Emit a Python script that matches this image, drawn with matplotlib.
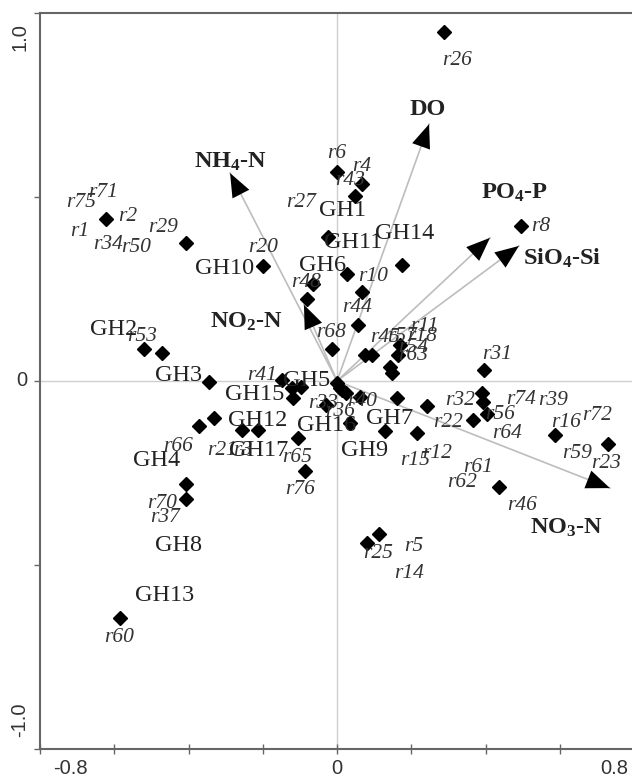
import matplotlib
matplotlib.use("Agg")
import matplotlib.pyplot as plt

plt.rcParams['mathtext.default'] = 'regular'

# ---- data ----
sample_x = [0.288, 0.495, 0.000, 0.067, 0.048, -0.024, 0.175, -0.199, 0.027, 0.067,
            0.057, -0.065, -0.081, -0.013, 0.075, 0.094, 0.170, 0.164, 0.143, 0.148,
            0.396, -0.622, -0.406, -0.520, -0.471, -0.345, -0.331, -0.371, -0.256, -0.213,
            -0.148, -0.121, -0.097, -0.118, -0.105, -0.086, 0.000, 0.013, 0.024, 0.008,
            0.062, -0.030, 0.035, 0.162, 0.242, 0.129, 0.215, 0.390, 0.393, 0.404,
            0.366, 0.587, 0.729, 0.436, 0.081, 0.113, -0.406, -0.406, -0.584]
sample_y = [0.948, 0.421, 0.568, 0.535, 0.503, 0.391, 0.315, 0.313, 0.291, 0.242,
            0.152, 0.264, 0.223, 0.087, 0.071, 0.071, 0.098, 0.071, 0.038, 0.022,
            0.030, 0.440, 0.375, 0.087, 0.076, -0.003, -0.101, -0.122, -0.133, -0.133,
            0.003, -0.019, -0.016, -0.046, -0.155, -0.245, -0.005, -0.024, -0.033, -0.019,
            -0.043, -0.065, -0.114, -0.046, -0.068, -0.136, -0.141, -0.033, -0.057, -0.090,
            -0.106, -0.147, -0.171, -0.288, -0.440, -0.416, -0.280, -0.321, -0.644]

site_names = ['r26', 'r8', 'r6', 'r4', 'r43', 'r27', 'r20', 'r10', 'r44', 'r68',
              'r48', 'r45', 'r57', 'r11', 'r18', 'r54', 'r63', 'r31', 'r32', 'r74',
              'r39', 'r56', 'r22', 'r64', 'r16', 'r72', 'r59', 'r23', 'r61', 'r62',
              'r46', 'r15', 'r12', 'r25', 'r5', 'r14', 'r33', 'r36', 'r40', 'r41',
              'r65', 'r76', 'r66', 'r21', 'r3', 'r70', 'r37', 'r60', 'r53', 'r71',
              'r75', 'r2', 'r1', 'r29', 'r34', 'r50']
site_lx = [0.323, 0.549, 0.000, 0.067, 0.035, -0.097, -0.199, 0.097, 0.054, -0.016,
           -0.084, 0.129, 0.175, 0.234, 0.229, 0.205, 0.205, 0.431, 0.331, 0.496,
           0.582, 0.439, 0.299, 0.458, 0.617, 0.700, 0.646, 0.725, 0.380, 0.337,
           0.498, 0.210, 0.269, 0.110, 0.207, 0.194, -0.038, 0.008, 0.067, -0.202,
           -0.108, -0.100, -0.428, -0.310, -0.253, -0.471, -0.463, -0.587, -0.525, -0.630,
           -0.690, -0.563, -0.692, -0.469, -0.617, -0.541]
site_ly = [0.872, 0.421, 0.617, 0.584, 0.546, 0.484, 0.364, 0.283, 0.201, 0.133,
           0.269, 0.117, 0.120, 0.147, 0.120, 0.092, 0.068, 0.071, -0.054, -0.049,
           -0.052, -0.092, -0.114, -0.144, -0.114, -0.095, -0.198, -0.223, -0.234, -0.277,
           -0.337, -0.215, -0.196, -0.470, -0.451, -0.524, -0.060, -0.084, -0.057, 0.014,
           -0.207, -0.296, -0.177, -0.188, -0.188, -0.332, -0.372, -0.698, 0.120, 0.511,
           0.484, 0.448, 0.405, 0.418, 0.372, 0.364]

group_names = ['GH1', 'GH11', 'GH14', 'GH6', 'GH10', 'GH2', 'GH3', 'GH15', 'GH5',
               'GH12', 'GH16', 'GH17', 'GH7', 'GH9', 'GH4', 'GH8', 'GH13']
group_lx = [0.016, 0.043, 0.183, -0.038, -0.302, -0.603, -0.426, -0.221, -0.081,
            -0.213, -0.027, -0.210, 0.143, 0.075, -0.485, -0.426, -0.463]
group_ly = [0.462, 0.375, 0.402, 0.313, 0.307, 0.139, 0.016, -0.038, 0.000,
            -0.106, -0.122, -0.190, -0.101, -0.188, -0.215, -0.446, -0.582]

env_names = ['NH$_4$-N', 'DO', 'PO$_4$-P', 'SiO$_4$-Si', 'NO$_2$-N', 'NO$_3$-N']
env_x = [-0.288, 0.248, 0.412, 0.490, -0.089, 0.735]
env_y = [0.565, 0.698, 0.389, 0.367, 0.207, -0.291]
env_lx = [-0.286, 0.245, 0.479, 0.606, -0.243, 0.617]
env_ly = [0.595, 0.739, 0.511, 0.334, 0.160, -0.399]

x_ticks = [-0.8, -0.6, -0.4, -0.2, 0.0, 0.2, 0.4, 0.6, 0.8]
y_ticks = [-1.0, -0.5, 0.0, 0.5, 1.0]

# ---- figure ----
W, H = 632, 779
fig = plt.figure(figsize=(W / 100, H / 100), dpi=100)
ax = fig.add_axes([40 / W, 30 / H, 594 / W, 736 / H])
ax.set_xlim(-0.8, 0.8)
ax.set_ylim(-1.0, 1.0)

spine_col = '#666666'
for s in ['left', 'bottom', 'top']:
    ax.spines[s].set_color(spine_col)
    ax.spines[s].set_linewidth(1.5)
ax.spines['right'].set_visible(False)

ax.set_xticks(x_ticks)
ax.set_yticks(y_ticks)
ax.set_xticklabels([])
ax.set_yticklabels([])
ax.tick_params(axis='x', direction='inout', length=7, width=1, color=spine_col)
ax.tick_params(axis='y', direction='out', length=4, width=1, color=spine_col)

# reference lines
ax.axhline(0, color='#cfcfcf', lw=1.0, zorder=1)
ax.axvline(0, color='#cfcfcf', lw=1.0, zorder=1)

# env arrows
for ex, ey in zip(env_x, env_y):
    ax.plot([0, ex], [0, ey], color='#bdbdbd', lw=1.2, zorder=2)
    ax.annotate('', xy=(ex, ey), xytext=(0, 0),
                arrowprops=dict(arrowstyle='-|>,head_length=0.85,head_width=0.34',
                                mutation_scale=20, lw=0, color='black',
                                shrinkA=0, shrinkB=0), zorder=3)

# samples
ax.plot(sample_x, sample_y, linestyle='none', marker='D', markersize=7,
        color='black', zorder=4)

serif = 'Liberation Serif'
for n, x, y in zip(site_names, site_lx, site_ly):
    ax.text(x, y, n, family=serif, style='italic', fontsize=15.5, color='#333333',
            ha='center', va='center', zorder=5)
for n, x, y in zip(group_names, group_lx, group_ly):
    ax.text(x, y, n, family=serif, fontsize=17.5, color='#222222',
            ha='center', va='center', zorder=5)
for n, x, y in zip(env_names, env_lx, env_ly):
    ax.text(x, y, n, family=serif, fontweight='bold', fontsize=17.5, color='#222222',
            ha='center', va='center', zorder=5)

# tick labels
sans = 'Liberation Sans'
tk = dict(family=sans, fontsize=14.5, color='#333333')
fig.text(70 / W, 1 - 769 / H, '-0.8', ha='center', va='center', **tk)
fig.text(337 / W, 1 - 769 / H, '0', ha='center', va='center', **tk)
fig.text(614 / W, 1 - 769 / H, '0.8', ha='center', va='center', **tk)
fig.text(20 / W, 1 - 37 / H, '1.0', ha='center', va='center', rotation=90, **tk)
fig.text(22 / W, 1 - 381 / H, '0', ha='center', va='center', **tk)
fig.text(20 / W, 1 - 720 / H, '-1.0', ha='center', va='center', rotation=90, **tk)

fig.savefig('out.png', dpi=100, facecolor='white')
